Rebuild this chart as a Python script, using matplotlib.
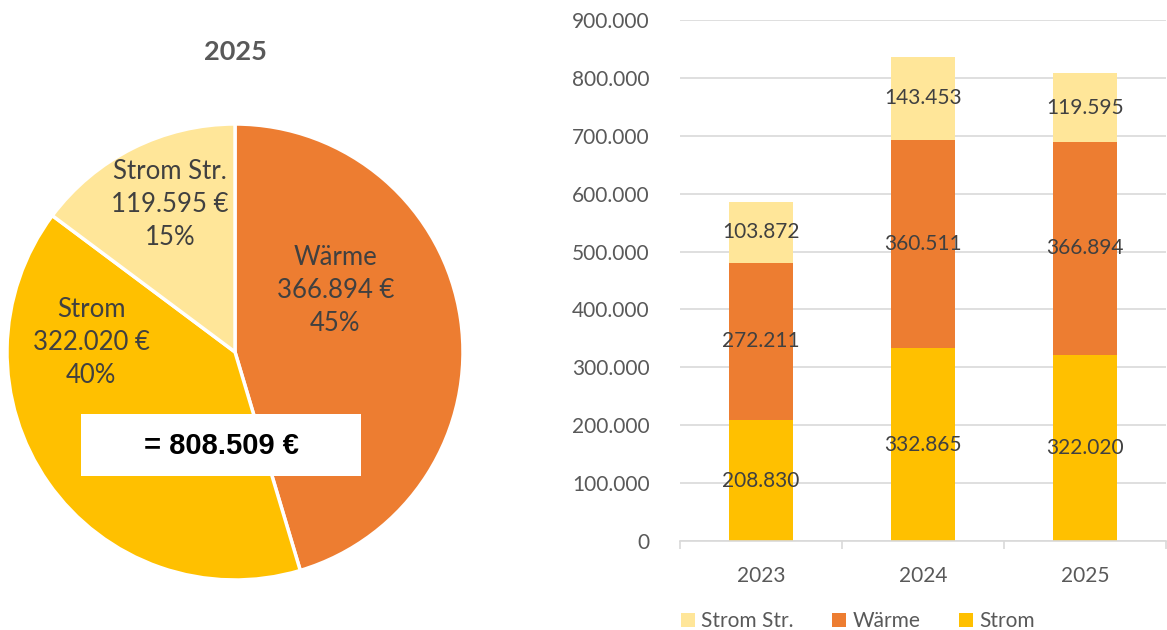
import matplotlib.pyplot as plt
from matplotlib.patches import Rectangle
import numpy as np

# ---------------- data ----------------
years = ['2023', '2024', '2025']
strom = [208830, 332865, 322020]
waerme = [272211, 360511, 366894]
strom_str = [103872, 143453, 119595]

pie_names = ['Wärme', 'Strom', 'Strom Str.']
pie_values = [waerme[2], strom[2], strom_str[2]]

c_strom = '#FFC000'
c_waerme = '#ED7D31'
c_str = '#FFE699'
txt_col = '#404040'
axis_col = '#595959'

plt.rcParams['font.family'] = ['Lato', 'DejaVu Sans']


def de(v):
    return f"{v:,.0f}".replace(',', '.')


W, H = 1167, 630
fig = plt.figure(figsize=(W / 100, H / 100), dpi=100)

# ---------------- pie ----------------
cx, cy, r = 235, 352, 228
ax_p = fig.add_axes([(cx - r) / W, (H - cy - r) / H, 2 * r / W, 2 * r / H])
wedges, _ = ax_p.pie(pie_values, colors=[c_waerme, c_strom, c_str], startangle=90,
                     counterclock=False, radius=1,
                     wedgeprops=dict(edgecolor='white', linewidth=2.5))
for wd in wedges:
    wd.set_clip_on(False)
ax_p.set_xlim(-1, 1)
ax_p.set_ylim(-1, 1)
ax_p.set_aspect('equal')
ax_p.axis('off')

total = sum(pie_values)
label_pos = [(0.44, 0.27), (-0.63, 0.04), (-0.285, 0.645)]
for name, val, (lx, ly) in zip(pie_names, pie_values, label_pos):
    ax_p.text(lx, ly, f"{name}\n{de(val)} €\n{val / total * 100:.0f}%",
              ha='center', va='center', fontsize=18.5, color=txt_col,
              linespacing=1.4)

ax_p.add_patch(Rectangle((-0.675, -0.544), 1.228, 0.272, facecolor='white',
                         edgecolor='none', zorder=5))
ax_p.text(-0.061, -0.412, f"= {de(total)} €", ha='center', va='center',
          fontsize=21, fontweight='bold', color='black',
          family='Liberation Sans', zorder=6)

fig.text(cx / W, 1 - 52 / H, years[2], ha='center', va='center',
         fontsize=19.5, fontweight='bold', color=axis_col)

# ---------------- stacked bars ----------------
ax_b = fig.add_axes([680 / W, 1 - 541 / H, (1166 - 680) / W, (541 - 20) / H])
x = np.arange(len(years))
s = np.array(strom)
w = np.array(waerme)
t = np.array(strom_str)
ax_b.bar(x, s, width=0.4, color=c_strom, label='Strom', zorder=2)
ax_b.bar(x, w, width=0.4, bottom=s, color=c_waerme, label='Wärme', zorder=2)
ax_b.bar(x, t, width=0.4, bottom=s + w, color=c_str, label='Strom Str.', zorder=2)

for i in range(len(years)):
    ax_b.text(x[i], s[i] / 2, de(s[i]), ha='center', va='center',
              fontsize=15, color=txt_col, zorder=3)
    ax_b.text(x[i], s[i] + w[i] / 2, de(w[i]), ha='center', va='center',
              fontsize=15, color=txt_col, zorder=3)
    ax_b.text(x[i], s[i] + w[i] + t[i] / 2, de(t[i]), ha='center', va='center',
              fontsize=15, color=txt_col, zorder=3)

ax_b.set_xlim(-0.5, 2.5)
ax_b.set_ylim(0, 900000)
ax_b.set_yticks(np.arange(0, 900001, 100000))
ax_b.set_yticklabels([de(v) for v in np.arange(0, 900001, 100000)])
ax_b.set_xticks(x)
ax_b.set_xticklabels(years)
ax_b.set_xticks([-0.5, 0.5, 1.5, 2.5], minor=True)
ax_b.tick_params(axis='x', which='major', length=0, pad=18, labelsize=15,
                 labelcolor=axis_col)
ax_b.tick_params(axis='x', which='minor', length=6, color='#d9d9d9', width=1.2)
ax_b.tick_params(axis='y', length=0, pad=22, labelsize=15, labelcolor=axis_col)
ax_b.grid(axis='y', color='#d9d9d9', linewidth=1.2, zorder=0)
for sp in ['top', 'right', 'left']:
    ax_b.spines[sp].set_visible(False)
ax_b.spines['bottom'].set_color('#d9d9d9')
ax_b.spines['bottom'].set_linewidth(1.2)

handles, labels = ax_b.get_legend_handles_labels()
fig.legend(handles[::-1], labels[::-1], loc='center', ncol=3,
           bbox_to_anchor=(858 / W, 1 - 621 / H), frameon=False,
           fontsize=15, labelcolor=axis_col, handlelength=0.67,
           handleheight=0.67, handletextpad=0.3, columnspacing=1.85,
           borderpad=0, borderaxespad=0)

fig.savefig('out.png', dpi=100)
